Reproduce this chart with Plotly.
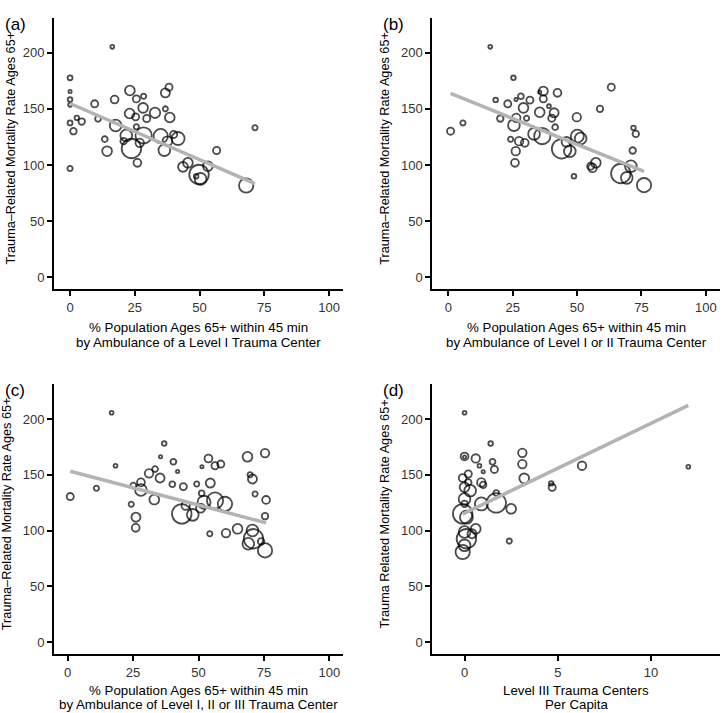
import numpy as np
import plotly.graph_objects as go

# ---------------- data ----------------
# panel (a): % pop 65+ within 45 min of Level I trauma center
xa = [16.3, 0, 0, 0, 0, 0, 1.3, 2.6, 4.5, 0, 9.5, 10.8, 13.4, 14.3, 17.2, 17.6, 23.7, 21.7, 20.7, 23.1,
      23.0, 25.6, 28.4, 28.2, 25.3, 29.6, 25.6, 32.8, 28.4, 26.9, 26.0, 35.0, 36.8, 36.8, 38.2, 38.5,
      36.4, 37.6, 40.0, 41.7, 43.6, 45.5, 48.7, 49.8, 50.4, 53.2, 56.6, 68.0, 71.4]
ya = [205.3, 177.7, 165.5, 158.3, 153.6, 137.5, 130.1, 142.0, 138.7, 96.9, 154.5, 141.1, 123.0, 112.3, 158.3,
      135.2, 114.7, 126.3, 121.2, 166.4, 145.9, 158.9, 161.3, 150.9, 142.9, 141.4, 134.0, 146.5, 126.3,
      119.7, 101.9, 125.7, 150.0, 164.3, 169.3, 142.3, 113.2, 121.2, 127.2, 123.6, 98.3, 101.9, 90.0,
      91.5, 87.6, 98.9, 112.9, 81.7, 133.1]
pa = [1.4, 2.3, 1.0, 2.0, 1.4, 2.3, 4.0, 2.0, 4.0, 2.6, 4.8, 3.2, 3.2, 9.0, 5.8, 13.0, 36.0, 13.0, 4.0, 9.0,
      9.0, 4.8, 2.6, 9.0, 4.8, 4.8, 2.6, 10.2, 25.0, 6.8, 5.8, 19.4, 2.6, 7.8, 4.8, 9.0, 13.0, 9.0, 4.8,
      16.0, 9.0, 9.0, 2.0, 36.0, 13.0, 9.0, 4.8, 19.4, 2.6]
fit_a = (154.8, -1.0)

# panel (b): Level I or II
xb = [16.3, 0.9, 5.7, 18.4, 20.2, 23.1, 25.3, 24.2, 26.2, 25.9, 25.5, 26.3, 26.4, 28.2, 27.5, 29.2, 29.7,
      30.4, 31.7, 33.3, 35.5, 36.9, 36.9, 36.5, 35.5, 39.1, 40.2, 41.1, 41.5, 42.4, 44.0, 45.9, 47.2,
      49.9, 48.8, 50.1, 51.4, 55.3, 56.0, 57.3, 58.9, 63.3, 67.0, 69.3, 70.9, 71.6, 71.9, 72.8, 76.0]
yb = [205.3, 130.1, 137.5, 158.0, 141.4, 154.5, 177.7, 123.0, 112.3, 101.9, 135.5, 158.3, 142.0, 161.3,
      121.2, 150.9, 119.7, 141.7, 157.8, 127.7, 147.0, 165.8, 159.0, 125.7, 165.0, 152.4, 141.7, 146.5,
      133.7, 164.3, 114.4, 120.6, 112.3, 142.6, 90.0, 125.7, 123.6, 98.9, 97.4, 101.9, 150.0, 169.3,
      92.4, 88.5, 98.9, 112.9, 133.1, 127.7, 82.0]
pb = [1.4, 4.8, 2.6, 2.0, 4.0, 4.8, 2.0, 2.6, 6.8, 5.8, 13.0, 1.0, 6.8, 3.2, 6.8, 9.0, 5.8, 2.6, 4.8, 13.0,
      9.0, 7.8, 4.8, 25.0, 1.0, 1.4, 4.8, 7.8, 3.2, 5.8, 36.0, 9.0, 13.0, 6.8, 2.0, 16.0, 13.0, 4.8, 6.8,
      9.0, 4.0, 4.8, 36.0, 13.0, 13.0, 4.0, 2.0, 4.0, 19.4]
fit_b = (164.6, -0.925)

# panel (c): Level I, II or III
xc = [16.8, 1.0, 11.0, 18.3, 24.3, 26.1, 26.0, 25.1, 28.0, 28.0, 31.1, 33.4, 33.1, 35.3, 35.5, 36.9, 40.0,
      40.4, 42.0, 44.2, 43.6, 45.1, 47.8, 49.3, 51.2, 51.3, 50.8, 52.1, 53.8, 54.5, 54.3, 56.3, 56.3,
      58.5, 60.1, 60.5, 64.9, 68.7, 69.7, 70.6, 69.0, 70.6, 71.0, 71.6, 73.9, 75.4, 75.8, 75.4, 75.4]
yc = [205.6, 130.5, 137.9, 158.1, 123.6, 112.0, 102.5, 140.3, 143.2, 136.4, 151.3, 155.1, 127.8, 147.1,
      166.1, 178.0, 141.5, 161.7, 153.0, 139.4, 115.0, 122.4, 114.1, 141.8, 133.4, 157.2, 120.1, 125.4,
      164.6, 142.6, 97.2, 158.1, 126.9, 159.6, 123.9, 97.8, 101.6, 166.1, 150.1, 146.2, 88.3, 100.1,
      92.7, 132.8, 90.3, 169.4, 127.5, 112.9, 82.3]
pc = [1.4, 4.8, 2.6, 1.4, 2.6, 7.8, 5.8, 3.2, 5.8, 13.0, 6.8, 3.2, 9.0, 7.8, 1.0, 2.0, 3.2, 3.2, 1.0, 4.8,
      36.0, 6.8, 13.0, 2.6, 3.2, 1.0, 7.8, 16.0, 5.8, 7.8, 2.6, 4.8, 25.0, 4.8, 19.4, 6.8, 9.0, 9.0,
      2.6, 7.8, 13.0, 13.0, 36.0, 2.6, 4.0, 6.8, 5.8, 4.0, 19.4]
fit_c = (153.8, -0.618)

# panel (d): Level III trauma centers per capita
xd = [0.0, 1.4, 0.0, 0.0, 0.6, 0.8, 1.0, 1.5, 1.6, 0.2, -0.1, 0.2, 0.9, 1.0, 3.1, 3.1, 3.2, 6.3, 4.65,
      4.7, 12.0, 0.0, 0.3, 1.7, 0.0, 1.7, 0.9, 2.5, -0.1, 0.1, 0.6, 0.0, 0.4, 2.4, 0.1, 0.0, -0.1, 0.0]
yd = [205.6, 178.0, 166.4, 166.0, 164.6, 158.1, 152.7, 161.7, 154.8, 150.7, 147.1, 143.2, 143.2, 141.0,
      169.7, 159.6, 146.8, 158.1, 142.3, 138.8, 157.2, 138.8, 135.8, 133.7, 128.4, 124.8, 123.9, 119.5,
      115.0, 112.0, 101.6, 98.7, 97.2, 90.6, 92.7, 86.8, 80.8, 123.9]
pd_ = [1.4, 2.0, 5.8, 1.0, 6.8, 1.4, 1.0, 3.2, 4.8, 4.8, 5.8, 4.0, 6.8, 4.0, 6.8, 6.8, 9.0, 6.8, 2.0, 4.8,
       1.4, 9.0, 13.0, 3.2, 13.0, 36.0, 16.0, 9.0, 36.0, 16.0, 9.0, 13.0, 7.8, 2.6, 36.0, 13.0, 19.4, 4.0]
fit_d = (115.6, 8.05)

panel_labels = ["(a)", "(b)", "(c)", "(d)"]
x_titles = [("% Population Ages 65+ within 45 min", "by Ambulance of a Level I Trauma Center"),
            ("% Population Ages 65+ within 45 min", "by Ambulance of Level I or II Trauma Center"),
            ("% Population Ages 65+ within 45 min", "by Ambulance of Level I, II or III Trauma Center"),
            ("Level III Trauma Centers", "Per Capita")]
y_titles = ["Trauma–Related Mortality Rate Ages 65+"] * 3 + ["Trauma Related Mortality Rate Ages 65+"]
x_ticks_pct = [0, 25, 50, 75, 100]
x_ticks_d = [0, 5, 10]
y_ticks = [0, 50, 100, 150, 200]

# ---------------- figure ----------------
FONT = "Liberation Sans, Arial, sans-serif"
max_pop = 36.0
max_diam = 19.5
sizeref = 2.0 * max_pop / (max_diam ** 2)

panels = [(xa, ya, pa, fit_a), (xb, yb, pb, fit_b), (xc, yc, pc, fit_c), (xd, yd, pd_, fit_d)]
xranges = [[-6.2, 105.4], [-6.2, 105.5], [-5.2, 105.2], [-1.73, 13.7]]
yrange = [-10.5, 231]
xdoms = [[0, 0.434], [0.568, 1.0], [0, 0.434], [0.568, 1.0]]
ydoms = [[0.574, 1.0], [0.574, 1.0], [0.0, 0.424], [0.0, 0.424]]
xtitle_shifts = [(-39, -53.5), (-39, -53.5), (-36, -50.8), (-36, -50.8)]

fig = go.Figure()
layout = dict(width=722, height=713, margin=dict(l=54, r=2, t=18, b=59),
              paper_bgcolor="white", plot_bgcolor="white", showlegend=False,
              font=dict(family=FONT, size=13, color="black"))
annotations = []
ytitle_shift = [-43, -47, -47, -47]

for i, (xs, ys, ps, fit) in enumerate(panels):
    n = i + 1
    xk = "x" if n == 1 else f"x{n}"
    yk = "y" if n == 1 else f"y{n}"
    fig.add_trace(go.Scatter(
        x=xs, y=ys, mode="markers", xaxis=xk, yaxis=yk,
        marker=dict(size=ps, sizemode="area", sizeref=sizeref, color="rgba(0,0,0,0)",
                    line=dict(color="black", width=1.8)),
        hoverinfo="skip"))
    x0, x1 = min(xs), max(xs)
    xl = np.array([x0, x1])
    fig.add_trace(go.Scatter(
        x=xl, y=fit[0] + fit[1] * xl, mode="lines", xaxis=xk, yaxis=yk,
        line=dict(color="#b3b3b3", width=3.5), hoverinfo="skip"))

    ticks = x_ticks_d if n == 4 else x_ticks_pct
    layout["xaxis" if n == 1 else f"xaxis{n}"] = dict(
        domain=xdoms[i], range=xranges[i], anchor=yk, tickvals=ticks,
        showline=True, linecolor="black", linewidth=2, ticks="outside", ticklen=5,
        tickwidth=1.5, tickcolor="black", showgrid=False, zeroline=False,
        tickfont=dict(family=FONT, size=13, color="#333333"), fixedrange=True)
    layout["yaxis" if n == 1 else f"yaxis{n}"] = dict(
        domain=ydoms[i], range=yrange, anchor=xk, tickvals=y_ticks,
        showline=True, linecolor="black", linewidth=2, ticks="outside", ticklen=5,
        tickwidth=1.5, tickcolor="black", showgrid=False, zeroline=False,
        tickfont=dict(family=FONT, size=13, color="#333333"), fixedrange=True)

    xdref = f"{xk} domain"
    ydref = f"{yk} domain"
    for line_text, shift in zip(x_titles[i], xtitle_shifts[i]):
        annotations.append(dict(text=line_text, xref=xdref, yref=ydref, x=0.5, y=0,
                                xanchor="center", yanchor="middle", yshift=shift,
                                showarrow=False,
                                font=dict(family=FONT, size=13.3, color="black")))
    annotations.append(dict(text=y_titles[i], xref=xdref, yref=ydref, x=0, y=0.5,
                            xanchor="center", yanchor="middle", textangle=-90,
                            xshift=ytitle_shift[i], yshift=5, showarrow=False,
                            font=dict(family=FONT, size=12.7, color="black")))
    annotations.append(dict(text=panel_labels[i], xref=xdref, yref=ydref, x=0, y=1,
                            xanchor="left", yanchor="middle", xshift=-51,
                            yshift=-6, showarrow=False,
                            font=dict(family=FONT, size=17, color="black")))

layout["annotations"] = annotations
fig.update_layout(**layout)
fig.write_html("out.html", config={"displayModeBar": False},
               post_script="document.body.style.margin='0';document.body.style.padding='0';")
